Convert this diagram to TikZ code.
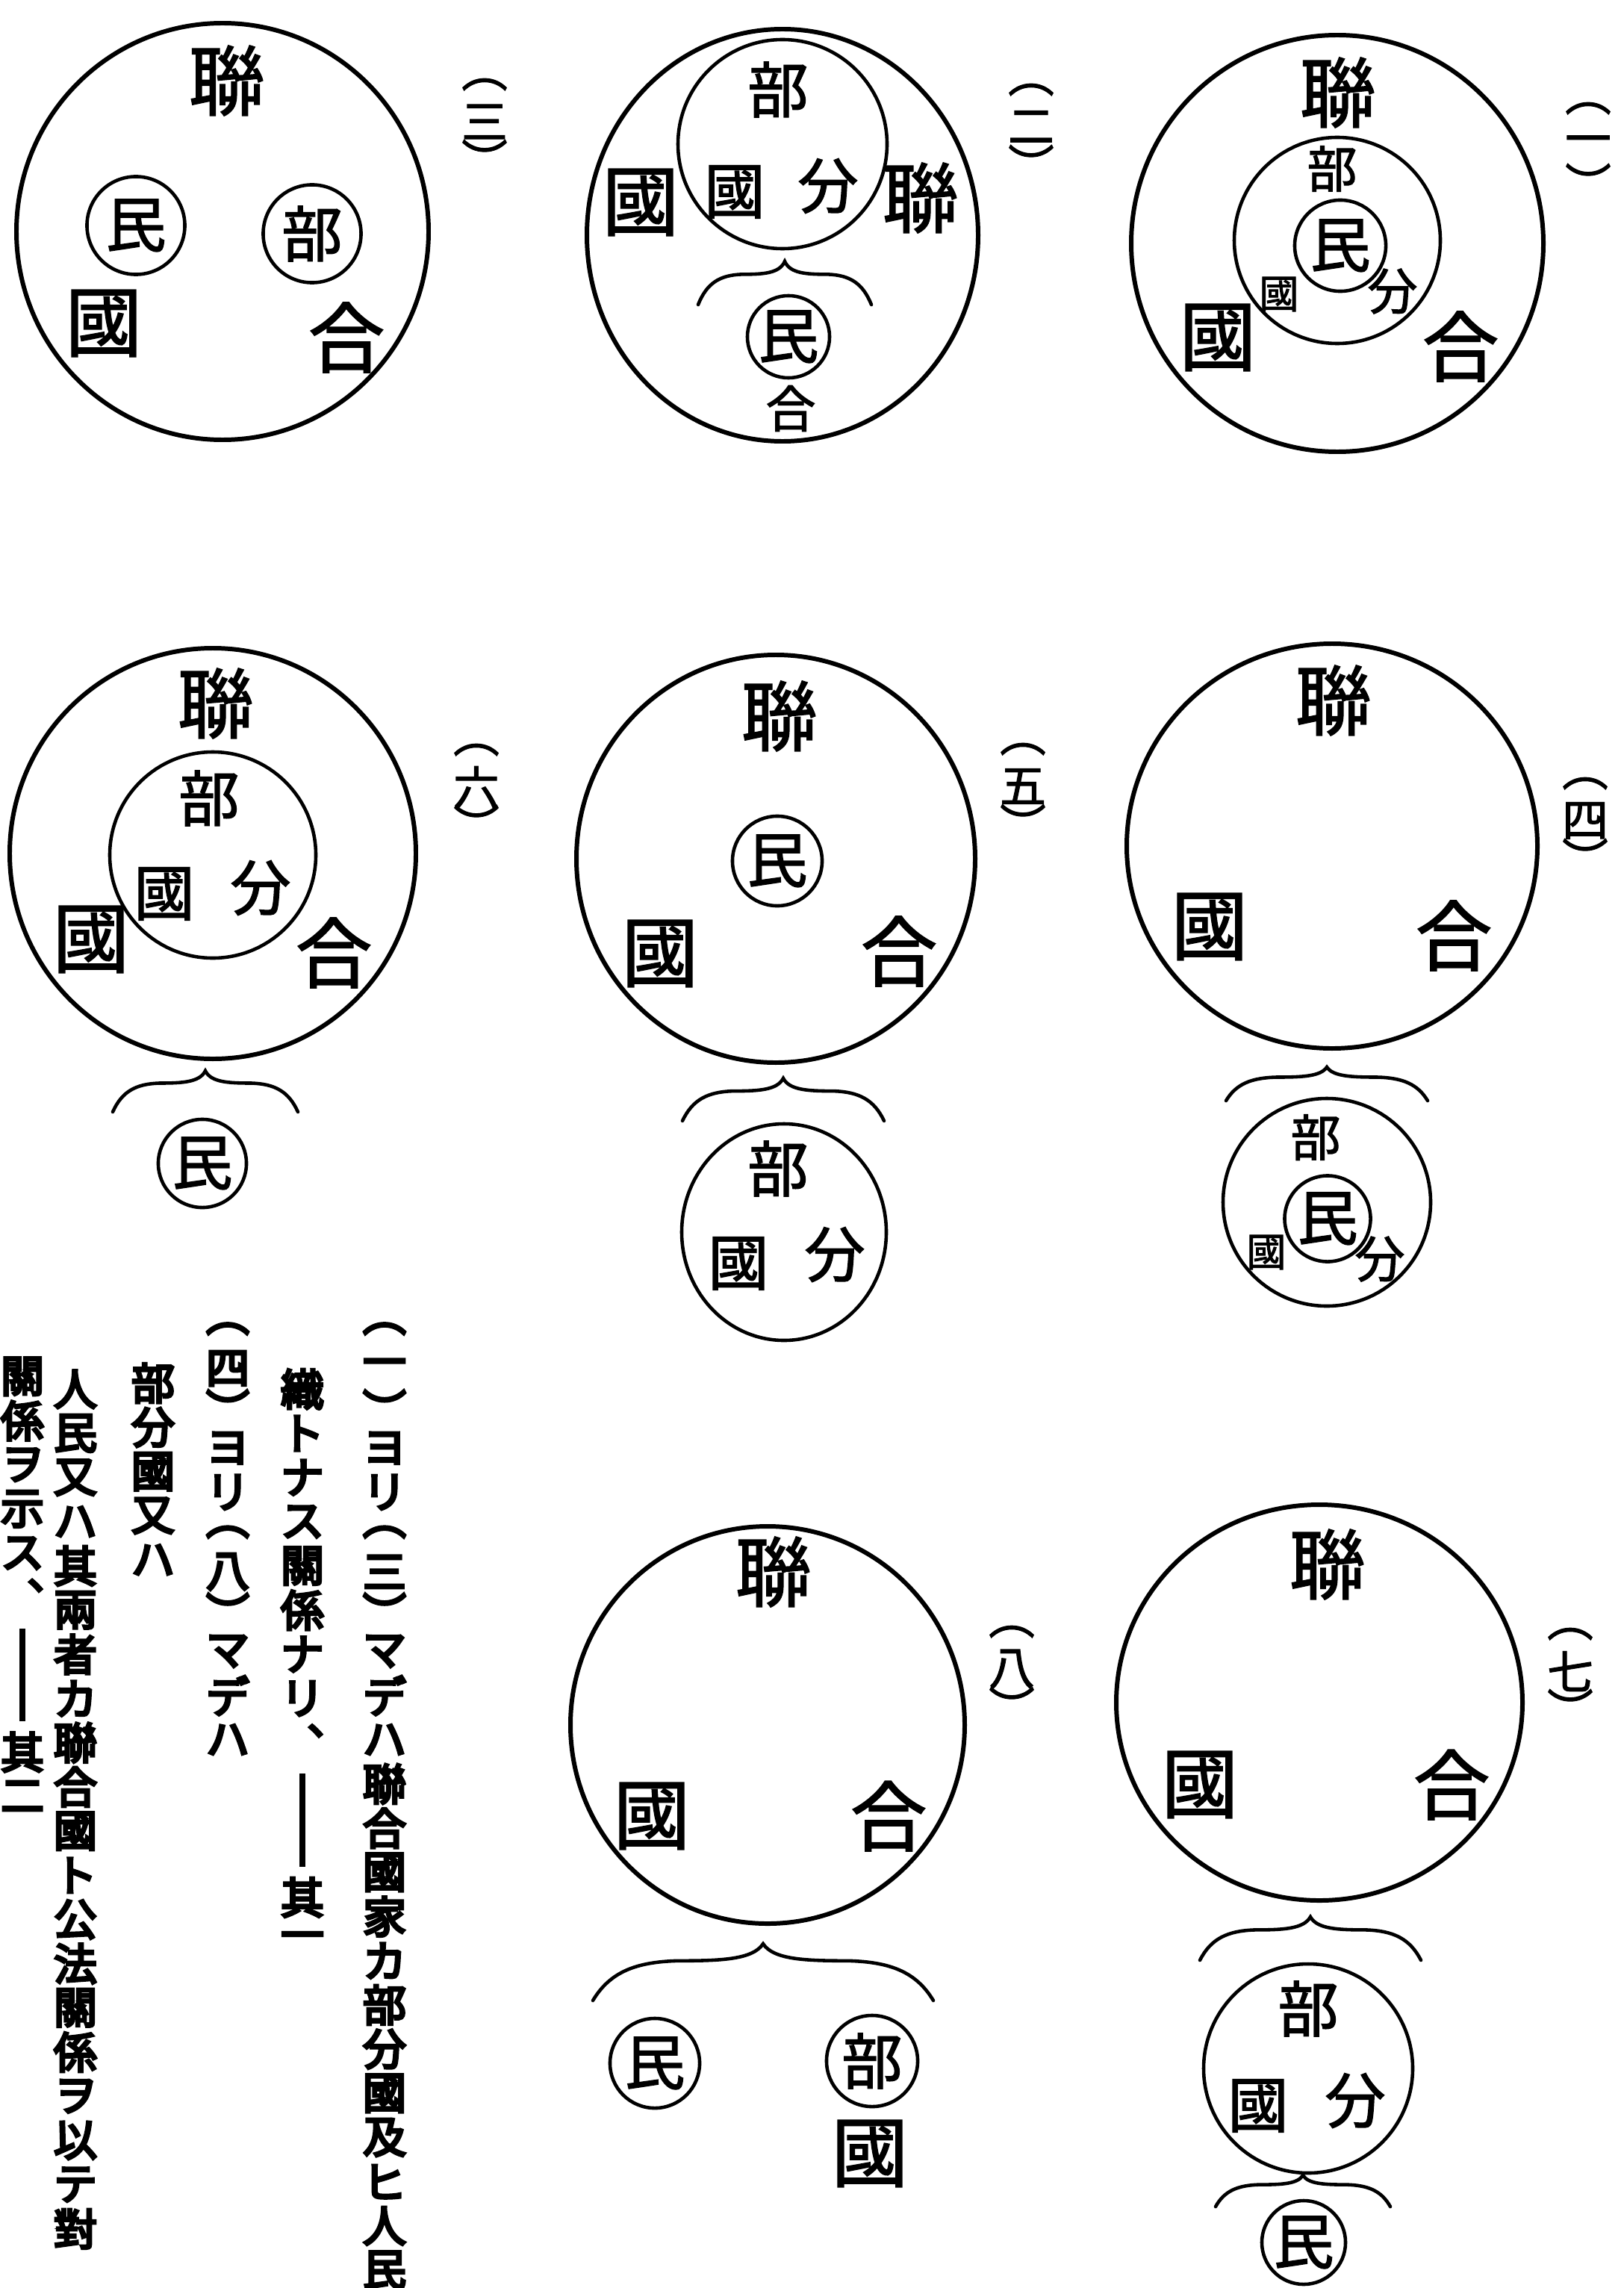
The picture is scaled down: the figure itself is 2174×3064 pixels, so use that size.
\documentclass[tikz,border=0pt]{standalone}
\usepackage{fontspec}
\newfontfamily\jp[FakeBold=1.8]{Noto Sans CJK JP}
\newfontfamily\jpb[FakeBold=6]{Noto Sans CJK JP}

\newlength\vpitch
\newlength\vcharw
\def\vstackend{\vstackend}
\newcommand\longbar{\rule{.14em}{2.1\vpitch}}
\newcommand\vcell[2]{\vbox to #1{\vss\hbox to \vcharw{\hss#2\hss}\vss}}
\newcommand\vstack[2][1.02]{\vbox{\offinterlineskip\vcharw=1em\vpitch=#1em\vstackloop#2\vstackend}}
\def\vstackloop#1{%
  \ifx\vstackend#1\else
    \ifx︵#1\vcell{.8\vpitch}{#1}%
    \else\ifx︶#1\vcell{.8\vpitch}{#1}%
    \else\ifx\longbar#1\vcell{2.5\vpitch}{#1}%
    \else\vcell{\vpitch}{#1}\fi\fi\fi
    \expandafter\vstackloop
  \fi}

\tikzset{
  big/.style={font=\jp\fontsize{29}{29}\selectfont, inner sep=0pt},
  mid/.style={font=\jp\fontsize{23}{23}\selectfont, inner sep=0pt},
  sml/.style={font=\jp\fontsize{19}{19}\selectfont, inner sep=0pt},
  tny/.style={font=\jp\fontsize{15}{15}\selectfont, inner sep=0pt},
  ring/.style={draw, circle, line width=1.3pt, minimum size=#1, inner sep=0pt, font=\jp\fontsize{23}{23}\selectfont},
  rim/.style={line width=1.7pt},
  hoop/.style={line width=1.3pt},
  brace/.style={line width=1.3pt, line cap=round},
  num/.style={font=\jp\fontsize{17.5}{17.5}\selectfont, inner sep=0pt},
  vcol/.style={font=\jpb\fontsize{16.5}{16.5}\selectfont, inner sep=0pt, anchor=north}
}

\begin{document}
\begin{tikzpicture}[x=0.01cm,y=-0.01cm]
\useasboundingbox (0,0) rectangle (2174,3064);
\def\capbrace#1#2#3#4{\draw[brace] (#1-#3,#2+#4) .. controls (#1-0.9*#3,#2+0.5*#4) and (#1-0.75*#3,#2+0.32*#4) .. (#1-0.5*#3,#2+0.3*#4) .. controls (#1-0.25*#3,#2+0.3*#4) and (#1-0.06*#3,#2+0.28*#4) .. (#1,#2) .. controls (#1+0.06*#3,#2+0.28*#4) and (#1+0.25*#3,#2+0.3*#4) .. (#1+0.5*#3,#2+0.3*#4) .. controls (#1+0.75*#3,#2+0.32*#4) and (#1+0.9*#3,#2+0.5*#4) .. (#1+#3,#2+#4);}

% (一)
\draw[rim] (1791,326) ellipse (276 and 279);
\draw[hoop] (1791,322) circle (138);
\node[big] (lian1) at (1792,124) {聯};
\node[big] (guo1) at (1631,452) {國};
\node[big] (he1) at (1956,464) {合};
\node[sml] (bu1) at (1784,226) {部};
\node[tny] (guoi1) at (1713,394) {國};
\node[sml] (fen1) at (1865,390) {分};
\node[ring=1.22cm] (min1) at (1795,329) {民};
\node[num] (num1) at (2127,195) {\vstack[.9]{︵一︶}};

% (二)
\draw[rim] (1048,315) ellipse (262 and 276);
\draw[hoop] (1048,193) circle (140);
\node[mid] (bu2) at (1042,120) {部};
\node[mid] (guoi2) at (984,257) {國};
\node[mid] (fen2) at (1109,249) {分};
\node[big] (guo2) at (858,271) {國};
\node[big] (lian2) at (1233,265) {聯};
\capbrace{1051}{350}{116}{58}
\node[ring=1.1cm] (min2) at (1056,451) {民};
\node[sml] (he2) at (1059,547) {合};
\node[num] (num2) at (1381,170) {\vstack[.9]{︵二︶}};

% (三)
\draw[rim] (298,310) ellipse (276 and 279);
\node[big] (lian3) at (304,108) {聯};
\node[ring=1.31cm] (min3) at (182,302) {民};
\node[ring=1.31cm] (bu3) at (418,313) {部};
\node[big] (guo3) at (139,433) {國};
\node[big] (he3) at (464,452) {合};
\node[num] (num3) at (649,163) {\vstack[.9]{︵三︶}};

% (四)
\draw[rim] (1784,1133) ellipse (275 and 271);
\node[big] (lian4) at (1786,938) {聯};
\node[big] (guo4) at (1620,1241) {國};
\node[big] (he4) at (1947,1253) {合};
\capbrace{1777}{1429}{135}{45}
\draw[hoop] (1777,1610) circle (139);
\node[sml] (bu4) at (1762,1523) {部};
\node[ring=1.15cm] (min4) at (1778,1632) {民};
\node[tny] (guoi4) at (1696,1677) {國};
\node[sml] (fen4) at (1848,1686) {分};
\node[num] (num4) at (2123,1099) {\vstack[.9]{︵四︶}};

% (五)
\draw[rim] (1039,1150) ellipse (267 and 273);
\node[big] (lian5) at (1044,959) {聯};
\node[ring=1.2cm] (min5) at (1041,1153) {民};
\node[big] (guo5) at (884,1277) {國};
\node[big] (he5) at (1204,1274) {合};
\capbrace{1049}{1444}{135}{57}
\draw[hoop] (1050,1650) ellipse (137 and 145);
\node[mid] (bu5) at (1042,1565) {部};
\node[mid] (guoi5) at (989,1692) {國};
\node[mid] (fen5) at (1118,1680) {分};
\node[num] (num5) at (1370,1053) {\vstack[.9]{︵五︶}};

% (六)
\draw[rim] (285,1143) ellipse (272 and 275);
\draw[hoop] (285,1145) circle (138);
\node[big] (lian6) at (289,942) {聯};
\node[mid] (bu6) at (280,1069) {部};
\node[mid] (guoi6) at (220,1197) {國};
\node[mid] (fen6) at (349,1189) {分};
\node[big] (guo6) at (122,1258) {國};
\node[big] (he6) at (447,1276) {合};
\capbrace{275}{1434}{124}{55}
\node[ring=1.18cm] (min6) at (271,1558) {民};
\node[num] (num6) at (638,1054) {\vstack[.9]{︵六︶}};

% (七)
\draw[rim] (1767,2280) ellipse (272 and 265);
\node[big] (lian7) at (1778,2095) {聯};
\node[big] (guo7) at (1607,2390) {國};
\node[big] (he7) at (1944,2390) {合};
\capbrace{1755}{2567}{148}{58}
\draw[hoop] (1752,2770) circle (140);
\node[mid] (bu7) at (1752,2690) {部};
\node[mid] (guoi7) at (1685,2820) {國};
\node[mid] (fen7) at (1815,2813) {分};
\capbrace{1745}{2913}{117}{42}
\node[ring=1.12cm] (min7) at (1746,3003) {民};
\node[num] (num7) at (2103,2238) {\vstack[.9]{︵七︶}};

% (八)
\draw[rim] (1028,2310) ellipse (264 and 266);
\node[big] (lian8) at (1036,2105) {聯};
\node[big] (guo8) at (873,2432) {國};
\node[big] (he8) at (1190,2432) {合};
\capbrace{1022}{2603}{228}{76}
\node[ring=1.2cm] (min8) at (877,2763) {民};
\node[ring=1.22cm] (bu8) at (1168,2760) {部};
\node[big] (guob8) at (1165,2884) {國};
\node[num] (num8) at (1355,2235) {\vstack[.9]{︵八︶}};

% text
\node[vcol] (colA) at (515,1755) {\vstack{︵一︶ヨリ︵三︶マデハ聯合國家カ部分國及ヒ人民}};
\node[vcol] (colB) at (405,1830) {\vstack{織トナス關係ナリ︑{\longbar}其一}};
\node[vcol] (colC) at (305,1755) {\vstack{︵四︶ヨリ︵八︶マデハ}};
\node[vcol] (colD) at (205,1822) {\vstack{部分國又ハ}};
\node[vcol] (colE) at (101,1830) {\vstack{人民又ハ其兩者カ聯合國ト公法關係ヲ以テ對}};
\node[vcol] (colF) at (30,1813) {\vstack{關係ヲ示ス︑{\longbar}其二}};
\end{tikzpicture}
\end{document}
